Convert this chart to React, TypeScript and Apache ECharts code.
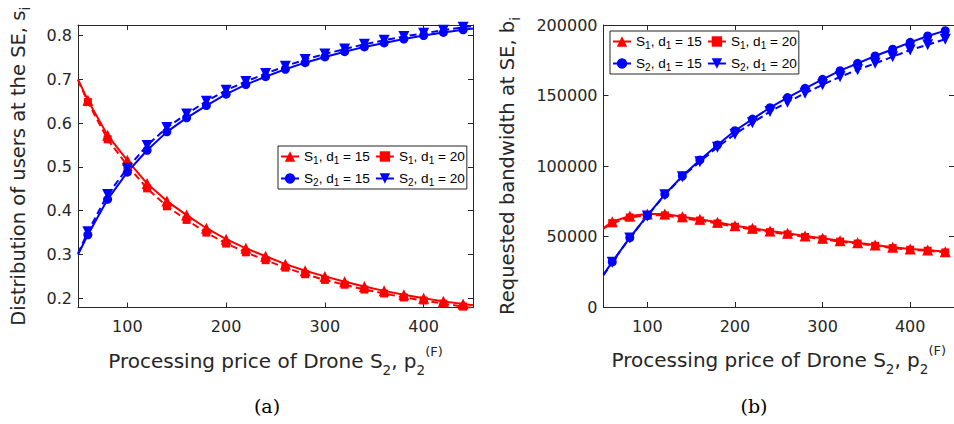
import React, { useEffect, useRef } from "react";
import * as echarts from "echarts";

// ---------- data ----------
// Left chart (a): distribution of users at the SE, s_i  (x = processing price)
const X_LEFT = [50, 60, 80, 100, 120, 140, 160, 180, 200, 220, 240, 260, 280, 300, 320, 340, 360, 380, 400, 420, 440, 450];
const A_S1_D15 = [0.700, 0.652, 0.572, 0.515, 0.462, 0.422, 0.390, 0.360, 0.335, 0.314, 0.296, 0.278, 0.263, 0.250, 0.238, 0.227, 0.217, 0.208, 0.200, 0.193, 0.187, 0.184];
const A_S1_D20 = [0.698, 0.648, 0.563, 0.503, 0.451, 0.410, 0.379, 0.350, 0.325, 0.305, 0.287, 0.270, 0.255, 0.242, 0.231, 0.220, 0.211, 0.202, 0.195, 0.188, 0.181, 0.178];
const A_S2_D15 = [0.300, 0.345, 0.426, 0.488, 0.538, 0.580, 0.612, 0.640, 0.666, 0.688, 0.706, 0.723, 0.738, 0.751, 0.763, 0.774, 0.783, 0.792, 0.800, 0.807, 0.813, 0.816];
const A_S2_D20 = [0.302, 0.352, 0.437, 0.497, 0.549, 0.590, 0.621, 0.650, 0.675, 0.695, 0.713, 0.730, 0.745, 0.758, 0.769, 0.780, 0.789, 0.798, 0.805, 0.812, 0.819, 0.822];

// Right chart (b): requested bandwidth at SE, b_i
const X_RIGHT = [50, 60, 80, 100, 120, 140, 160, 180, 200, 220, 240, 260, 280, 300, 320, 340, 360, 380, 400, 420, 440];
const B_S1_D15 = [56000, 60500, 64500, 66000, 66000, 64000, 62200, 60100, 57700, 55800, 53900, 52300, 50400, 48700, 47000, 45600, 44000, 42300, 41100, 40400, 39200];
const B_S1_D20 = [55500, 59500, 63500, 65000, 65000, 63000, 61300, 59200, 56900, 55000, 53100, 51500, 49700, 48000, 46400, 45000, 43400, 41800, 40600, 39900, 38700];
const B_S2_D15 = [23000, 32000, 49200, 64800, 79900, 92900, 104300, 114900, 125000, 133300, 141400, 148500, 155100, 161500, 167600, 172800, 178000, 182800, 187700, 192200, 196000];
const B_S2_D20 = [22500, 31800, 49000, 64600, 79600, 92400, 103100, 113300, 122600, 130700, 138600, 145300, 151600, 157600, 163300, 168200, 172800, 177500, 182200, 186000, 189900];

const X_TICKS = [100, 200, 300, 400];
const A_Y_TICKS = [0.2, 0.3, 0.4, 0.5, 0.6, 0.7, 0.8];

const NAME_S1_15 = "S1, d1 = 15";
const NAME_S1_20 = "S1, d1 = 20";
const NAME_S2_15 = "S2, d1 = 15";
const NAME_S2_20 = "S2, d1 = 20";
const LEGEND_NAMES = [NAME_S1_15, NAME_S1_20, NAME_S2_15, NAME_S2_20];
const LEGEND_RICH: Record<string, string> = {
  [NAME_S1_15]: "S{sub|1}, d{sub|1} = 15",
  [NAME_S1_20]: "S{sub|1}, d{sub|1} = 20",
  [NAME_S2_15]: "S{sub|2}, d{sub|1} = 15",
  [NAME_S2_20]: "S{sub|2}, d{sub|1} = 20",
};

// ---------- styles ----------
const RED = "#ff0000";
const BLUE = "#0000ff";
const AXIS = "#262626";
const TEXT = "#262626";
const SANS = "DejaVu Sans";
const DOWN_TRI = "path://M0,0L10,0L5,9Z";

function mkSeries(
  name: string,
  xi: number,
  yi: number,
  xs: number[],
  ys: number[],
  color: string,
  dashed: boolean,
  symbol: string,
  symbolSize: number
) {
  return {
    type: "line",
    name,
    xAxisIndex: xi,
    yAxisIndex: yi,
    data: xs.map((x, i) =>
      x % 20 === 0 ? [x, ys[i]] : { value: [x, ys[i]], symbol: "none" }
    ),
    symbol,
    symbolSize,
    showSymbol: true,
    clip: true,
    lineStyle: { color, width: 2, type: dashed ? [7, 4] : "solid" },
    itemStyle: { color, borderWidth: 0 },
    emphasis: { disabled: true },
  };
}

const subRich = {
  sub: { fontSize: 13.5, fontFamily: SANS, color: TEXT, verticalAlign: "bottom", lineHeight: 12 },
  sup: { fontSize: 13, fontFamily: SANS, color: TEXT, verticalAlign: "top", lineHeight: 13 },
};

function xAxes(grid: number) {
  return [
    {
      type: "value",
      gridIndex: grid,
      min: 50,
      max: 450,
      position: "bottom",
      axisLine: { show: true, onZero: false, lineStyle: { color: AXIS, width: 1 } },
      axisTick: { show: true, inside: true, length: 5, customValues: X_TICKS, lineStyle: { color: AXIS } },
      axisLabel: { show: true, customValues: X_TICKS, margin: 11, fontFamily: SANS, fontSize: 16, color: TEXT },
      splitLine: { show: false },
      name: "Processing price of Drone S{sub|2}, p{sub|2}{sup|(F)}",
      nameLocation: "middle",
      nameGap: 37,
      nameTextStyle: { fontFamily: SANS, fontSize: 20, color: TEXT, lineHeight: 32, rich: subRich },
    },
    {
      type: "value",
      gridIndex: grid,
      min: 50,
      max: 450,
      position: "top",
      axisLine: { show: true, onZero: false, lineStyle: { color: AXIS, width: 1 } },
      axisTick: { show: true, inside: true, length: 5, customValues: X_TICKS, lineStyle: { color: AXIS } },
      axisLabel: { show: false },
      splitLine: { show: false },
    },
  ];
}

function legendFor(left: number, top: number) {
  return {
    left,
    top,
    width: 260,
    orient: "horizontal",
    data: LEGEND_NAMES,
    itemWidth: 18,
    itemHeight: 13,
    itemGap: 5,
    padding: [2, 2, 2, 2],
    borderColor: AXIS,
    borderWidth: 1,
    backgroundColor: "#ffffff",
    selectedMode: false,
    formatter: (n: string) => LEGEND_RICH[n] || n,
    textStyle: {
      fontFamily: "Liberation Sans",
      fontSize: 13.6,
      color: "#000000",
      lineHeight: 17,
      rich: {
        sub: { fontFamily: "Liberation Sans", fontSize: 10, color: "#000000", verticalAlign: "bottom", lineHeight: 9 },
      },
    },
  };
}

export default function App() {
  const ref = useRef<HTMLDivElement>(null);
  useEffect(() => {
    if (!ref.current) return;
    const chart = echarts.init(ref.current, undefined, { renderer: "svg" });
    const option = {
      animation: false,
      backgroundColor: "#ffffff",
      grid: [
        { left: 78, top: 25, width: 395, height: 282.5 },
        { left: 603.5, top: 25, width: 356.5, height: 282 },
      ],
      xAxis: [...xAxes(0), ...xAxes(1)],
      yAxis: [
        {
          type: "value",
          gridIndex: 0,
          min: 0.179,
          max: 0.824,
          position: "left",
          axisLine: { show: true, onZero: false, lineStyle: { color: AXIS, width: 1 } },
          axisTick: { show: true, inside: true, length: 5, customValues: A_Y_TICKS, lineStyle: { color: AXIS } },
          axisLabel: { show: true, customValues: A_Y_TICKS, margin: 6, fontFamily: SANS, fontSize: 16, color: TEXT, formatter: (v: number) => v.toFixed(1) },
          splitLine: { show: false },
          name: "Distribution of users at the SE, s{sub|i}",
          nameLocation: "middle",
          nameRotate: 90,
          nameGap: 46,
          nameTextStyle: { fontFamily: SANS, fontSize: 19.5, color: TEXT, lineHeight: 28, rich: subRich },
        },
        {
          type: "value",
          gridIndex: 0,
          min: 0.179,
          max: 0.824,
          position: "right",
          axisLine: { show: true, onZero: false, lineStyle: { color: AXIS, width: 1 } },
          axisTick: { show: true, inside: true, length: 5, customValues: A_Y_TICKS, lineStyle: { color: AXIS } },
          axisLabel: { show: false },
          splitLine: { show: false },
        },
        {
          type: "value",
          gridIndex: 1,
          min: 0,
          max: 200000,
          interval: 50000,
          position: "left",
          axisLine: { show: true, onZero: false, lineStyle: { color: AXIS, width: 1 } },
          axisTick: { show: true, inside: true, length: 5, lineStyle: { color: AXIS } },
          axisLabel: { show: true, margin: 6, fontFamily: SANS, fontSize: 16, color: TEXT, formatter: (v: number) => String(v) },
          splitLine: { show: false },
          name: "Requested bandwidth at SE, b{sub|i}",
          nameLocation: "middle",
          nameRotate: 90,
          nameGap: 82,
          nameTextStyle: { fontFamily: SANS, fontSize: 19.5, color: TEXT, lineHeight: 28, rich: subRich },
        },
        {
          type: "value",
          gridIndex: 1,
          min: 0,
          max: 200000,
          interval: 50000,
          position: "right",
          axisLine: { show: true, onZero: false, lineStyle: { color: AXIS, width: 1 } },
          axisTick: { show: true, inside: true, length: 5, lineStyle: { color: AXIS } },
          axisLabel: { show: false },
          splitLine: { show: false },
        },
      ],
      legend: [legendFor(278, 146), legendFor(610, 31)],
      series: [
        mkSeries(NAME_S1_20, 0, 0, X_LEFT, A_S1_D20, RED, true, "rect", 8),
        mkSeries(NAME_S1_15, 0, 0, X_LEFT, A_S1_D15, RED, false, "triangle", 11),
        mkSeries(NAME_S2_15, 0, 0, X_LEFT, A_S2_D15, BLUE, false, "circle", 9),
        mkSeries(NAME_S2_20, 0, 0, X_LEFT, A_S2_D20, BLUE, true, DOWN_TRI, 11),
        mkSeries(NAME_S1_20, 2, 2, X_RIGHT, B_S1_D20, RED, true, "rect", 8),
        mkSeries(NAME_S1_15, 2, 2, X_RIGHT, B_S1_D15, RED, false, "triangle", 11),
        mkSeries(NAME_S2_15, 2, 2, X_RIGHT, B_S2_D15, BLUE, false, "circle", 9),
        mkSeries(NAME_S2_20, 2, 2, X_RIGHT, B_S2_D20, BLUE, true, DOWN_TRI, 11),
      ],
      graphic: [
        {
          type: "text",
          x: 267,
          y: 406,
          style: { text: "(a)", fontFamily: "DejaVu Serif", fontSize: 19, fill: "#000000", align: "center", verticalAlign: "middle" },
        },
        {
          type: "text",
          x: 754,
          y: 406,
          style: { text: "(b)", fontFamily: "DejaVu Serif", fontSize: 19, fill: "#000000", align: "center", verticalAlign: "middle" },
        },
      ],
    };
    chart.setOption(option as any);
    return () => chart.dispose();
  }, []);
  return <div ref={ref} style={{ position: "absolute", left: 0, top: 0, width: 954, height: 424 }} />;
}
